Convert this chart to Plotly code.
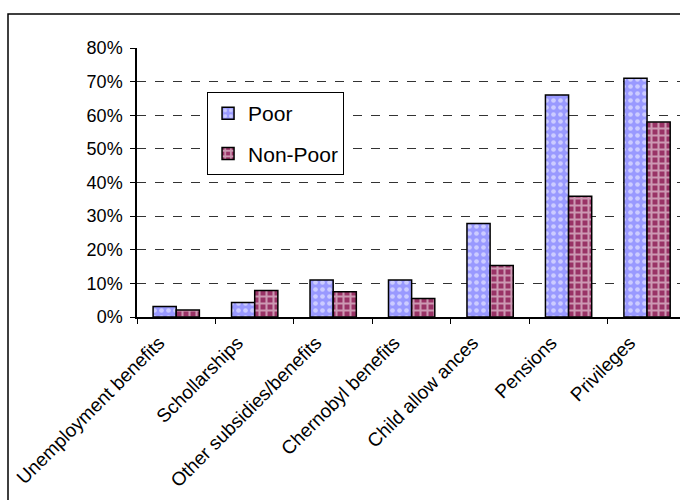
import plotly.graph_objects as go

categories = ["Unemployment benefits", "Schollarships", "Other subsidies/benefits",
              "Chernobyl benefits", "Child allow ances", "Pensions", "Privileges"]
poor = [0.031, 0.043, 0.11, 0.11, 0.278, 0.66, 0.71]
non_poor = [0.021, 0.079, 0.075, 0.055, 0.153, 0.359, 0.58]
y_ticks = [0, 0.1, 0.2, 0.3, 0.4, 0.5, 0.6, 0.7, 0.8]
y_tick_labels = ["0%", "10%", "20%", "30%", "40%", "50%", "60%", "70%", "80%"]

FONT = "Liberation Sans, Arial, sans-serif"
X_RANGE = [-0.5, 6.42]
LABEL_SHIFT = 0.22  # category units: labels sit a bit left of the bar pair centre

fig = go.Figure()
fig.add_trace(go.Bar(
    name="Poor", x=categories, y=poor, legendgroup="a",
    marker=dict(color="#9999FF", line=dict(color="black", width=1.5),
                pattern=dict(shape=".", bgcolor="#9999FF", fgcolor="white",
                             size=7, solidity=0.35)),
))
fig.add_trace(go.Bar(
    name="Non-Poor", x=categories, y=non_poor, legendgroup="b",
    marker=dict(color="#993366", line=dict(color="black", width=1.5),
                pattern=dict(shape="+", bgcolor="#993366", fgcolor="white",
                             size=7, solidity=0.5)),
))
# invisible helper trace carrying the category tick labels on a second x axis
fig.add_trace(go.Scatter(
    x=categories, y=poor, xaxis="x2", mode="markers",
    marker=dict(opacity=0), showlegend=False, hoverinfo="skip",
))

fig.update_layout(
    width=680, height=500,
    margin=dict(l=137, r=0, t=48, b=183),
    paper_bgcolor="white", plot_bgcolor="white",
    barmode="group", bargap=0.41, bargroupgap=0,
    font=dict(family=FONT, color="black", size=16),
    legend=dict(x=0.129, y=0.836, xanchor="left", yanchor="top",
                bordercolor="black", borderwidth=1, bgcolor="white",
                font=dict(size=21, family=FONT), traceorder="grouped",
                tracegroupgap=10),
    showlegend=True,
    xaxis=dict(
        range=X_RANGE, showline=True, linecolor="black",
        linewidth=1.5, ticks="outside", tickson="boundaries", ticklen=5,
        tickcolor="black", showgrid=False, showticklabels=False,
    ),
    xaxis2=dict(
        overlaying="x", side="bottom", anchor="y",
        range=[X_RANGE[0] + LABEL_SHIFT, X_RANGE[1] + LABEL_SHIFT],
        tickangle=-45, showline=False, ticks="", showgrid=False,
        tickfont=dict(size=19, family=FONT), ticklabelstandoff=10,
    ),
)
fig.update_yaxes(
    range=[0, 0.8], tickvals=y_ticks, ticktext=y_tick_labels,
    showline=True, linecolor="black", linewidth=1.5, ticks="outside",
    ticklen=5, tickcolor="black", showgrid=True, gridcolor="#333333",
    griddash="dash", gridwidth=1, zeroline=False,
    tickfont=dict(size=18, family=FONT), ticklabelstandoff=4,
)
# outer chart frame (extends beyond the visible window on right/bottom)
fig.add_shape(type="rect", xref="paper", yref="paper",
              x0=(8 - 137) / 543, x1=1.2, y0=-0.9, y1=(317 - 14) / 269,
              line=dict(color="black", width=1.5), fillcolor="rgba(0,0,0,0)",
              layer="below")

fig.write_html("out.html")
